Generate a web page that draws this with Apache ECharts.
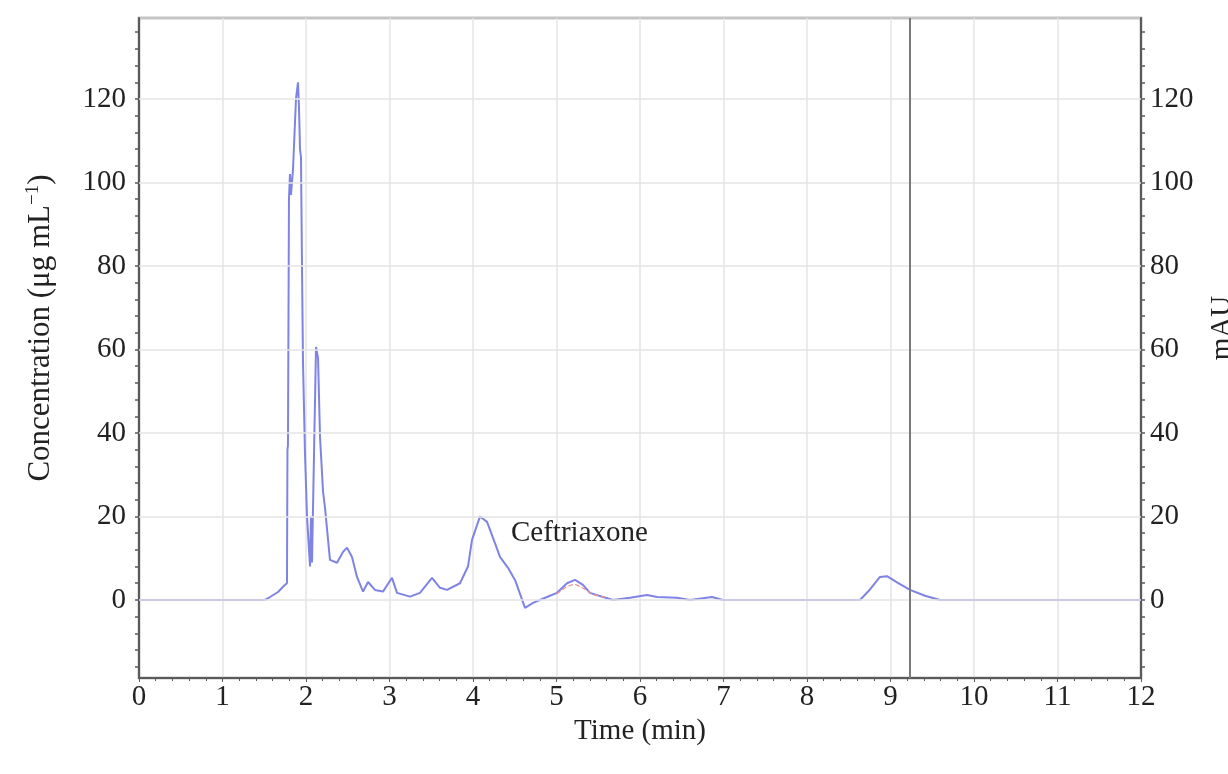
<!DOCTYPE html>
<html>
<head>
<meta charset="utf-8">
<script src="https://cdn.jsdelivr.net/npm/echarts@6/dist/echarts.min.js"></script>
<style>
  html, body { margin: 0; padding: 0; background: #fff; }
  #main { width: 1228px; height: 774px; }
</style>
</head>
<body>
<div id="main"></div>
<script>
// chromatogram trace (min, signal)
var timeMin = [0, 1.509, 1.569, 1.665, 1.737, 1.772, 1.778, 1.784, 1.796, 1.808, 1.82, 1.844, 1.88, 1.904, 1.916, 1.928, 1.94, 1.952, 1.964, 1.988, 2.012, 2.036, 2.048, 2.06, 2.072, 2.096, 2.12, 2.144, 2.168, 2.204, 2.228, 2.287, 2.371, 2.443, 2.491, 2.551, 2.611, 2.683, 2.743, 2.826, 2.922, 3.03, 3.09, 3.246, 3.365, 3.509, 3.605, 3.689, 3.844, 3.94, 3.988, 4.084, 4.168, 4.263, 4.323, 4.419, 4.503, 4.623, 4.719, 4.886, 5.006, 5.126, 5.222, 5.317, 5.401, 5.557, 5.677, 5.88, 6.084, 6.204, 6.443, 6.599, 6.862, 6.994, 8.635, 8.754, 8.874, 8.958, 9.078, 9.234, 9.413, 9.593, 12];
var signal = [0, 0, 0.7, 1.9, 3.4, 4, 36, 37, 96, 102, 97, 103, 120, 124, 118, 108, 106, 80, 57, 35, 20, 12, 8, 20, 9, 35, 60.6, 58, 39, 26, 22, 9.6, 8.9, 11.5, 12.5, 10.3, 5.5, 2, 4.3, 2.4, 2, 5.3, 1.7, 0.8, 1.7, 5.3, 2.9, 2.4, 4, 8, 14.4, 20, 18.7, 13.6, 10.3, 7.7, 4.8, -1.9, -0.7, 0.7, 1.7, 4, 4.8, 3.6, 1.7, 0.7, 0, 0.5, 1.2, 0.7, 0.5, 0, 0.7, 0, 0, 2.5, 5.5, 5.7, 4.2, 2.4, 1, 0, 0];

// integration trace of the ceftriaxone peak
var ceftTime = [5.0, 5.12, 5.22, 5.32, 5.45, 5.6];
var ceftSignal = [1.4, 3.2, 3.8, 2.8, 1.2, 0.6];

var xTicks = [0, 1, 2, 3, 4, 5, 6, 7, 8, 9, 10, 11, 12];
var yTicks = [0, 20, 40, 60, 80, 100, 120];
var yMinorTicks = [-16, -12, -8, -4, 0, 4, 8, 12, 16, 20, 24, 28, 32, 36, 40, 44, 48, 52, 56, 60, 64, 68, 72, 76, 80, 84, 88, 92, 96, 100, 104, 108, 112, 116, 120, 124, 128, 132, 136];
var markerTime = 9.234;

var yMin = -18.7, yMax = 139.4;
var font = 'Liberation Serif';
var fs = 29;

function yAxisCfg(pos) {
    return {
        type: 'value', position: pos, min: yMin, max: yMax,
        axisLine: {show: true, lineStyle: {color: '#5a5a5a', width: 2}},
        axisTick: {show: true, customValues: yMinorTicks, length: 4, inside: false, lineStyle: {color: '#5a5a5a', width: 1.5}},
        axisLabel: {customValues: yTicks, fontFamily: font, fontSize: fs, color: '#222', margin: pos == 'left' ? 13 : 9},
        splitLine: {show: false}
    };
}

var left = yAxisCfg('left');
left.name = '{a|Concentration (μg mL}{s|−1}{a|)}';
left.nameLocation = 'middle';
left.nameGap = 81;
left.nameTextStyle = {padding: [0, 0, 0, 40], rich: {
    a: {fontFamily: font, fontSize: 31, color: '#222', lineHeight: 34},
    s: {fontFamily: font, fontSize: 19, color: '#222', lineHeight: 34, verticalAlign: 'top', padding: [0, 0, 11, 0]}
}};
var right = yAxisCfg('right');
right.name = 'mAU';
right.nameLocation = 'middle';
right.nameRotate = 90;
right.nameGap = 67;
right.nameTextStyle = {fontFamily: font, fontSize: fs, color: '#222', padding: [0, 0, 0, 40]};

var chart = echarts.init(document.getElementById('main'));
chart.setOption({
    animation: false,
    backgroundColor: '#fff',
    grid: {left: 139, right: 87, top: 18, bottom: 96, containLabel: false, outerBoundsMode: 'none',
        show: true, borderColor: '#c4c4c4', borderWidth: 3},
    xAxis: {
        type: 'value', min: 0, max: 12, interval: 1,
        name: 'Time (min)', nameLocation: 'middle', nameGap: 36,
        nameTextStyle: {fontFamily: font, fontSize: fs, color: '#222'},
        axisLine: {show: true, onZero: false, lineStyle: {color: '#5a5a5a', width: 2}},
        axisTick: {show: true, length: 4, lineStyle: {color: '#5a5a5a'}},
        minorTick: {show: true, splitNumber: 5, length: 3, lineStyle: {color: '#5a5a5a'}},
        axisLabel: {fontFamily: font, fontSize: fs, color: '#222', margin: 5,
            formatter: function (v) { return xTicks.indexOf(v) >= 0 ? String(v) : ''; }},
        splitLine: {show: true, lineStyle: {color: '#e4e4e4', width: 1.5}}
    },
    yAxis: [left, right],
    series: [
        {
            type: 'line', name: 'grid', data: [], silent: true,
            markLine: {
                silent: true, symbol: 'none', label: {show: false},
                lineStyle: {color: '#e4e4e4', type: 'solid', width: 1.5},
                data: yTicks.map(function (v) { return {yAxis: v}; })
            }
        },
        {
            type: 'line', name: 'signal', showSymbol: false,
            data: timeMin.map(function (t, i) { return [t, signal[i]]; }),
            lineStyle: {color: '#7f84e4', width: 2},
            itemStyle: {color: '#7f84e4'},
            markLine: {
                silent: true, symbol: 'none', label: {show: false},
                lineStyle: {color: '#7a7a7a', type: 'solid', width: 2},
                data: [{xAxis: markerTime}]
            },
            markPoint: {
                symbol: 'circle', symbolSize: 0,
                label: {show: true, position: 'right', distance: 0, formatter: 'Ceftriaxone',
                    fontFamily: font, fontSize: fs, color: '#222'},
                data: [{coord: [4.455, 16]}]
            },
            z: 3
        },
        {
            type: 'line', name: 'ceftriaxone', showSymbol: false,
            data: ceftTime.map(function (t, i) { return [t, ceftSignal[i]]; }),
            lineStyle: {color: '#e89090', width: 1.2, type: 'dashed'},
            z: 4
        }
    ]
});
</script>
</body>
</html>
